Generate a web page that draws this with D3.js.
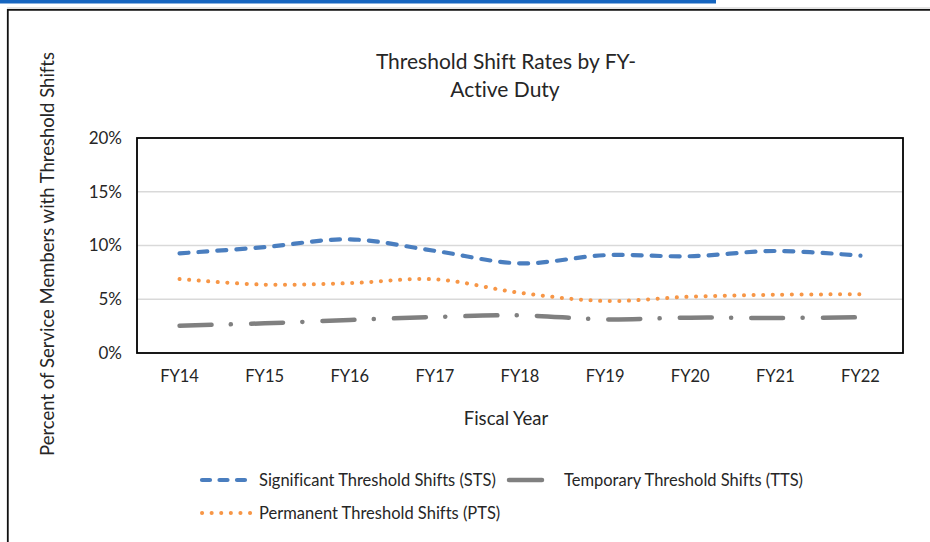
<!DOCTYPE html>
<html>
<head>
<meta charset="utf-8">
<script src="https://cdn.jsdelivr.net/npm/d3@7"></script>
<style>
    html, body { margin: 0; padding: 0; background: #fff; }
    svg { display: block; font-family: Lato, "Open Sans", sans-serif; font-variant-ligatures: none; }
</style>
</head>
<body>
<div id="chart"></div>
<script>
// data
var years = ["FY14", "FY15", "FY16", "FY17", "FY18", "FY19", "FY20", "FY21", "FY22"];
var stsValues = [9.27, 9.85, 10.57, 9.5, 8.34, 9.1, 9.0, 9.49, 9.05];
var ptsValues = [6.88, 6.36, 6.5, 6.85, 5.6, 4.84, 5.24, 5.42, 5.46];
var ttsValues = [2.54, 2.76, 3.07, 3.35, 3.5, 3.13, 3.29, 3.26, 3.32];
var yTicks = [0, 5, 10, 15, 20];

var width = 930;
var height = 542;
var plot = { left: 137, top: 138, right: 903, bottom: 353 };
var textColor = "#262626";

var series = [
    { name: "Significant Threshold Shifts (STS)", values: stsValues, color: "#4a7ebf", width: 4.2, dash: "9,10" },
    { name: "Temporary Threshold Shifts (TTS)", values: ttsValues, color: "#808080", width: 4.5, dash: "32,19.3,0.1,20.1" },
    { name: "Permanent Threshold Shifts (PTS)", values: ptsValues, color: "#f79646", width: 4, dash: "0.1,9.5" }
];

var svg = d3.select("#chart").append("svg")
    .attr("width", width)
    .attr("height", height);

//page decoration: blue rule and frame
svg.append("rect")
    .attr("x", 0).attr("y", 0)
    .attr("width", 716).attr("height", 3.5)
    .attr("fill", "#1565c0");
svg.append("line")
    .attr("x1", 7).attr("x2", width).attr("y1", 8).attr("y2", 8)
    .attr("stroke", "#c8c8c8").attr("stroke-width", 1);
svg.append("path")
    .attr("d", "M7.8," + height + "V9.8H" + width)
    .attr("fill", "none")
    .attr("stroke", "#111").attr("stroke-width", 1.8);

//scales
var x = d3.scaleBand()
    .domain(years)
    .range([plot.left, plot.right]);
var y = d3.scaleLinear()
    .domain([0, 20])
    .range([plot.bottom, plot.top]);

//gridlines
var grid = svg.append("g").attr("class", "grid");
grid.selectAll("line")
    .data(yTicks.slice(1, -1))
    .join("line")
    .attr("x1", plot.left).attr("x2", plot.right)
    .attr("y1", function (d) { return y(d); })
    .attr("y2", function (d) { return y(d); })
    .attr("stroke", "#d9d9d9")
    .attr("stroke-width", 1.5);

//axes, drawn without domain lines
var yAxis = svg.append("g")
    .attr("transform", "translate(" + (plot.left - 15) + ",0)")
    .call(d3.axisLeft(y).tickValues(yTicks).tickSize(0).tickPadding(0)
        .tickFormat(function (d) { return d + "%"; }));
yAxis.select(".domain").remove();
yAxis.selectAll("text")
    .attr("font-size", 17)
    .attr("font-family", "Lato, 'Open Sans', sans-serif")
    .attr("fill", textColor);

var xAxis = svg.append("g")
    .attr("transform", "translate(0," + plot.bottom + ")")
    .call(d3.axisBottom(x).tickSize(0).tickPadding(17));
xAxis.select(".domain").remove();
xAxis.selectAll("text")
    .attr("font-size", 16.5)
    .attr("font-family", "Lato, 'Open Sans', sans-serif")
    .attr("fill", textColor);

//plot border
svg.append("rect")
    .attr("x", plot.left).attr("y", plot.top)
    .attr("width", plot.right - plot.left)
    .attr("height", plot.bottom - plot.top)
    .attr("fill", "none")
    .attr("stroke", "#000")
    .attr("stroke-width", 1.8);

//series lines, smoothed like the spreadsheet
var line = d3.line()
    .x(function (d, i) { return x(years[i]) + x.bandwidth() / 2; })
    .y(function (d) { return y(d); })
    .curve(d3.curveCatmullRom.alpha(0));

var lineGroup = svg.append("g").attr("class", "lines");
series.forEach(function (s) {
    lineGroup.append("path")
        .datum(s.values)
        .attr("d", line)
        .attr("fill", "none")
        .attr("stroke", s.color)
        .attr("stroke-width", s.width)
        .attr("stroke-dasharray", s.dash)
        .attr("stroke-linecap", "round")
        .attr("stroke-linejoin", "round");
});

//titles
var title = svg.append("text")
    .attr("text-anchor", "middle")
    .attr("font-size", 21)
    .attr("fill", textColor);
title.append("tspan").attr("x", 506).attr("y", 69).text("Threshold Shift Rates by FY-");
title.append("tspan").attr("x", 505).attr("y", 97).text("Active Duty");

svg.append("text")
    .attr("x", 506).attr("y", 425)
    .attr("text-anchor", "middle")
    .attr("font-size", 18.5)
    .attr("fill", textColor)
    .text("Fiscal Year");

svg.append("text")
    .attr("transform", "translate(54,254) rotate(-90)")
    .attr("text-anchor", "middle")
    .attr("font-size", 18.5)
    .attr("fill", textColor)
    .text("Percent of Service Members with Threshold Shifts");

//legend
var legendItems = [
    { s: series[0], x1: 202, x2: 249.5, y: 480, dash: "8,9.5" },
    { s: series[1], x1: 509, x2: 542, y: 480, dash: null },
    { s: series[2], x1: 202, x2: 251, y: 513, dash: "0.1,9.5" }
];
var textX = [259, 564, 259];
var legend = svg.append("g").attr("class", "legend");
legendItems.forEach(function (item, i) {
    legend.append("line")
        .attr("x1", item.x1).attr("x2", item.x2)
        .attr("y1", item.y).attr("y2", item.y)
        .attr("stroke", item.s.color)
        .attr("stroke-width", item.s.width)
        .attr("stroke-linecap", "round")
        .attr("stroke-dasharray", item.dash);
    legend.append("text")
        .attr("x", textX[i]).attr("y", item.y + 6)
        .attr("font-size", 16.5)
        .attr("fill", textColor)
        .text(item.s.name);
});
</script>
</body>
</html>
